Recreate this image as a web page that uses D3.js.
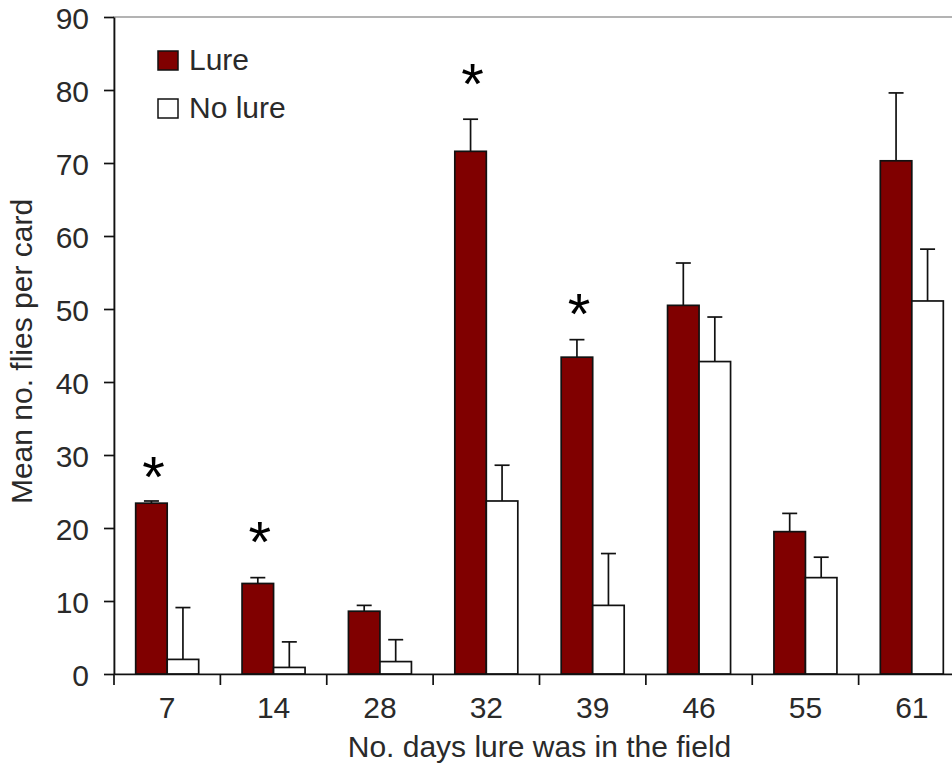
<!DOCTYPE html>
<html>
<head>
<meta charset="utf-8">
<script src="https://cdn.jsdelivr.net/npm/d3@7"></script>
<style>
  body { margin: 0; background: #fff; }
  svg text { font-family: "Liberation Sans", Arial, sans-serif; fill: #2a2a2a; }
</style>
</head>
<body>
<div id="chart"></div>
<script>
// values (mean flies per card, +SE)
var days = ["7", "14", "28", "32", "39", "46", "55", "61"];
var seriesNames = ["Lure", "No lure"];
var lureMean = [23.4, 12.4, 8.6, 71.6, 43.4, 50.5, 19.5, 70.3];
var lureErr = [0.3, 0.8, 0.8, 4.4, 2.4, 5.8, 2.5, 9.3];
var noLureMean = [2.0, 0.9, 1.7, 23.7, 9.4, 42.8, 13.2, 51.1];
var noLureErr = [7.1, 3.5, 3.0, 4.9, 7.1, 6.1, 2.8, 7.1];
// height (in flies) of the significance stars
var starLevel = [28.2, 19.3, null, 82, 50.5, null, null, null];
var yTicks = [0, 10, 20, 30, 40, 50, 60, 70, 80, 90];

var colors = {"Lure": "#800000", "No lure": "#ffffff"};

var width = 952, height = 767;
var margin = {top: 17, left: 114, bottom: 93};
var plotRight = 965;

var svg = d3.select("#chart").append("svg")
    .attr("width", width)
    .attr("height", height);

var x = d3.scaleBand()
    .domain(days)
    .range([margin.left, plotRight]);

// the two bars sit in the middle of each day band
var groupW = 63;
var x1 = d3.scaleBand()
    .domain(seriesNames)
    .range([x.bandwidth() / 2 - groupW / 2, x.bandwidth() / 2 + groupW / 2]);

var y = d3.scaleLinear()
    .domain([0, 90])
    .range([height - margin.bottom, margin.top]);

// grey plot area border (only the top shows)
svg.append("rect")
    .attr("x", margin.left)
    .attr("y", y(90))
    .attr("width", plotRight - margin.left)
    .attr("height", y(0) - y(90))
    .attr("fill", "none")
    .attr("stroke", "#9a9a9a")
    .attr("stroke-width", 1.5);

var rows = days.map(function(d, i) {
    return [
        {day: d, name: "Lure", mean: lureMean[i], err: lureErr[i]},
        {day: d, name: "No lure", mean: noLureMean[i], err: noLureErr[i]}
    ];
});
var flat = [].concat.apply([], rows);

// error bars first, so bars' top edges sit over them
var errG = svg.append("g")
    .attr("stroke", "#111")
    .attr("stroke-width", 1.7);
errG.selectAll("line.stem").data(flat)
    .enter()
    .append("line")
    .attr("class", "stem")
    .attr("x1", function(d) { return x(d.day) + x1(d.name) + x1.bandwidth() / 2; })
    .attr("x2", function(d) { return x(d.day) + x1(d.name) + x1.bandwidth() / 2; })
    .attr("y1", function(d) { return y(d.mean); })
    .attr("y2", function(d) { return y(d.mean + d.err); });
errG.selectAll("line.cap").data(flat)
    .enter()
    .append("line")
    .attr("class", "cap")
    .attr("x1", function(d) { return x(d.day) + x1(d.name) + x1.bandwidth() / 2 - 7.5; })
    .attr("x2", function(d) { return x(d.day) + x1(d.name) + x1.bandwidth() / 2 + 7.5; })
    .attr("y1", function(d) { return y(d.mean + d.err); })
    .attr("y2", function(d) { return y(d.mean + d.err); });

svg.append("g").selectAll("rect").data(flat)
    .enter()
    .append("rect")
    .attr("x", function(d) { return x(d.day) + x1(d.name); })
    .attr("y", function(d) { return y(d.mean); })
    .attr("width", x1.bandwidth())
    .attr("height", function(d) { return y(0) - y(d.mean); })
    .attr("fill", function(d) { return colors[d.name]; })
    .attr("stroke", "#111")
    .attr("stroke-width", 1.7);

// significance stars over the lure bars
svg.append("g").selectAll("text").data(days.filter(function(d, i) { return starLevel[i] != null; }))
    .enter()
    .append("text")
    .attr("x", function(d) { return x(d) + x1("Lure") + x1.bandwidth() / 2 + 2; })
    .attr("y", function(d) { return y(starLevel[days.indexOf(d)]) + 29; })
    .attr("text-anchor", "middle")
    .attr("font-size", "58px")
    .style("fill", "#000")
    .text("*");

// y axis
var yAxis = d3.axisLeft(y)
    .tickValues(yTicks)
    .tickSize(10)
    .tickSizeOuter(0)
    .tickPadding(15);
var yG = svg.append("g")
    .attr("transform", "translate(" + margin.left + ",0)")
    .call(yAxis);
yG.selectAll("text").attr("font-size", "30px").attr("font-family", null).attr("dy", "0.38em");
yG.selectAll("line,path").attr("stroke", "#111").attr("stroke-width", 1.7);

// x axis: labels in the band centres, ticks on the band edges
var xAxis = d3.axisBottom(x)
    .tickSize(0)
    .tickSizeOuter(0)
    .tickPadding(23);
var xG = svg.append("g")
    .attr("transform", "translate(0," + y(0) + ")")
    .call(xAxis);
xG.selectAll("text").attr("font-size", "30px").attr("font-family", null);
xG.selectAll("path").attr("stroke", "#111").attr("stroke-width", 1.7);

xG.selectAll("line.edge").data(days)
    .enter()
    .append("line")
    .attr("class", "edge")
    .attr("x1", function(d) { return x(d); })
    .attr("x2", function(d) { return x(d); })
    .attr("y1", 0)
    .attr("y2", 11)
    .attr("stroke", "#111")
    .attr("stroke-width", 1.7);

// axis titles
svg.append("text")
    .attr("x", (margin.left + plotRight) / 2)
    .attr("y", 757)
    .attr("text-anchor", "middle")
    .attr("font-size", "30px")
    .text("No. days lure was in the field");

svg.append("text")
    .attr("transform", "translate(32," + ((y(0) + y(90)) / 2 + 6) + ") rotate(-90)")
    .attr("text-anchor", "middle")
    .attr("font-size", "30px")
    .text("Mean no. flies per card");

// legend
var legend = svg.append("g")
    .attr("transform", "translate(158,51)");
var item = legend.selectAll("g").data(seriesNames)
    .enter()
    .append("g")
    .attr("transform", function(d, i) { return "translate(0," + (i * 48) + ")"; });
item.append("rect")
    .attr("width", 20)
    .attr("height", 19)
    .attr("fill", function(d) { return colors[d]; })
    .attr("stroke", "#111")
    .attr("stroke-width", 1.5);
item.append("text")
    .attr("x", 31)
    .attr("y", 19)
    .attr("font-size", "30px")
    .text(function(d) { return d; });
</script>
</body>
</html>
